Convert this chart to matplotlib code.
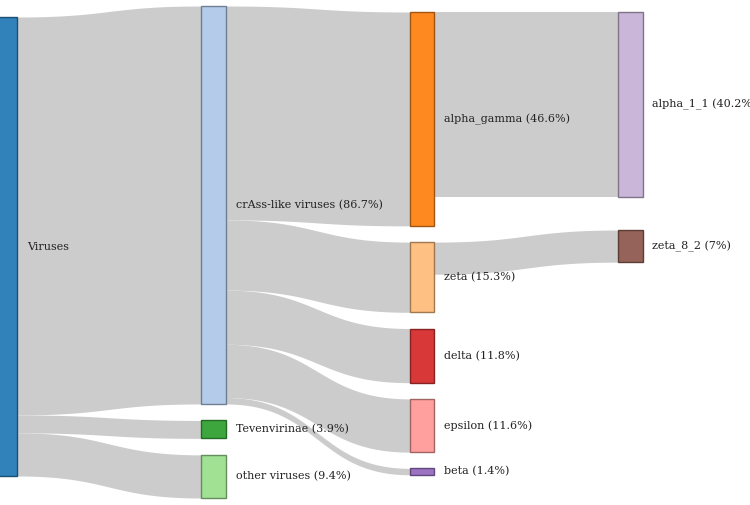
import matplotlib
matplotlib.use("Agg")
import matplotlib.pyplot as plt
import matplotlib.colors as mcolors
import numpy as np

# ---- data ----
node_names = ["Viruses", "crAss-like viruses", "Tevenvirinae", "other viruses",
              "alpha_gamma", "zeta", "delta", "epsilon", "beta",
              "alpha_1_1", "zeta_8_2"]
node_values = [100, 86.7, 3.9, 9.4, 46.6, 15.3, 11.8, 11.6, 1.4, 40.2, 7]
node_columns = [0, 1, 1, 1, 2, 2, 2, 2, 2, 3, 3]
link_sources = ["Viruses", "Viruses", "Viruses",
                "crAss-like viruses", "crAss-like viruses", "crAss-like viruses",
                "crAss-like viruses", "crAss-like viruses",
                "alpha_gamma", "zeta"]
link_targets = ["crAss-like viruses", "Tevenvirinae", "other viruses",
                "alpha_gamma", "zeta", "delta", "epsilon", "beta",
                "alpha_1_1", "zeta_8_2"]
link_values = [86.7, 3.9, 9.4, 46.6, 15.3, 11.8, 11.6, 1.4, 40.2, 7]

# ---- layout / style ----
W, H = 750, 505
scale = 4.59            # px per percent
col_x = [-7.5, 201, 409.5, 618]
node_w = 24.5
col_top = [17, 6, 12, 12]
col_gap = [0, 16.5, 16.2, 33.5]
palette = plt.get_cmap("tab20").colors
node_colors = [palette[i] for i in [0, 1, 4, 5, 2, 3, 6, 7, 8, 9, 10]]
link_color = "#cccccc"

fig = plt.figure(figsize=(W / 100, H / 100), dpi=100)
ax = fig.add_axes([0, 0, 1, 1])
ax.set_xlim(0, W)
ax.set_ylim(H, 0)
ax.axis("off")

# node positions
pos = {}
cursor = {}
for name, v, c in zip(node_names, node_values, node_columns):
    y0 = cursor.get(c, col_top[c])
    h = v * scale
    pos[name] = (col_x[c], y0, h)
    cursor[c] = y0 + h + col_gap[c]

# links
out_off = {n: 0.0 for n in node_names}
in_off = {n: 0.0 for n in node_names}
t = np.linspace(0, 1, 200)
for s, tg, v in zip(link_sources, link_targets, link_values):
    sx, sy, _ = pos[s]
    tx, ty, _ = pos[tg]
    h = v * scale
    x0 = sx + node_w
    x1 = tx
    ys0 = sy + out_off[s]
    yt0 = ty + in_off[tg]
    out_off[s] += h
    in_off[tg] += h
    xm = (x0 + x1) / 2
    bx = (1 - t) ** 3 * x0 + 3 * (1 - t) ** 2 * t * xm + 3 * (1 - t) * t ** 2 * xm + t ** 3 * x1
    sm = 3 * (1 - t) * t ** 2 + t ** 3
    top = ys0 + (yt0 - ys0) * sm
    bot = top + h
    ax.fill_between(bx, top, bot, color=link_color, lw=0, zorder=1)

# nodes and labels
for name, v, col in zip(node_names, node_values, node_colors):
    x, y, h = pos[name]
    edge = tuple(np.array(mcolors.to_rgb(col)) * 0.6)
    ax.add_patch(plt.Rectangle((x, y), node_w, h, facecolor=col, alpha=0.92,
                               edgecolor=edge, lw=1.0, zorder=2))
    label = name if name == "Viruses" else f"{name} ({v:g}%)"
    ax.text(x + node_w + 10, y + h / 2, label, ha="left", va="center",
            fontsize=8, family="DejaVu Serif", color="#222222", zorder=3)

fig.savefig("out.png", dpi=100)
